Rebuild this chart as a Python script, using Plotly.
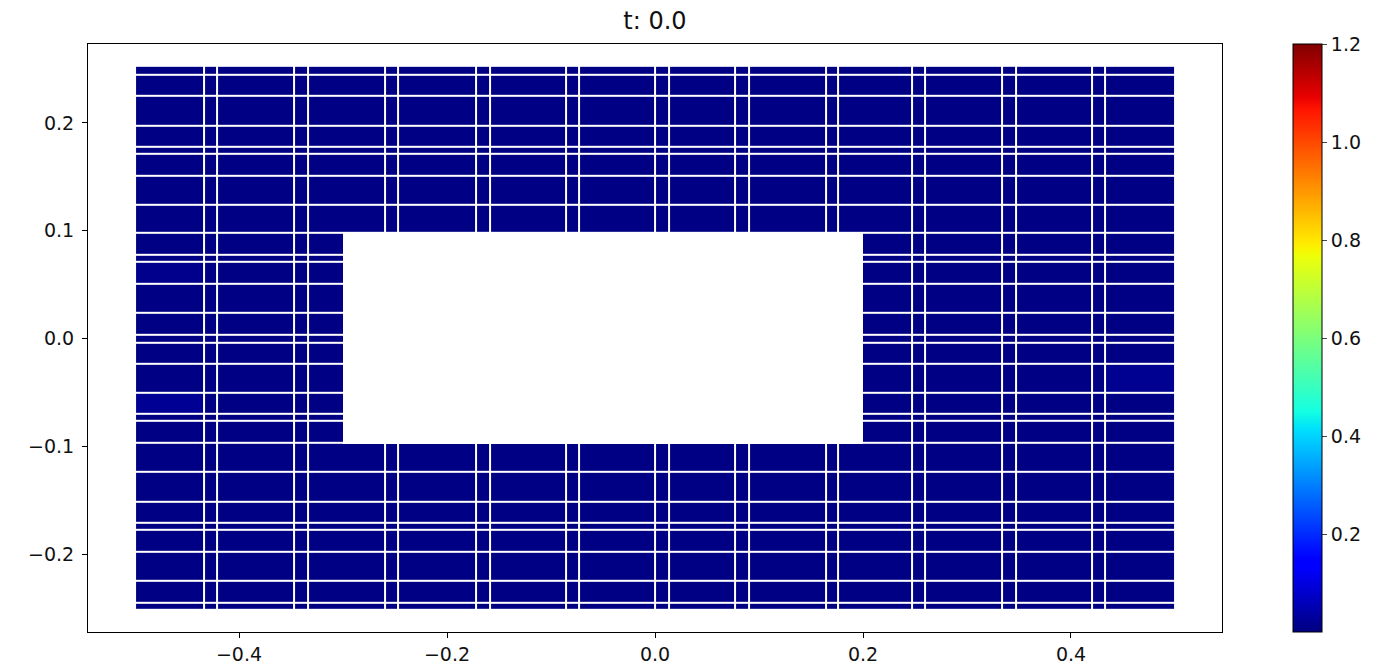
import bisect
import plotly.graph_objects as go

# element seams of the mesh (data units)
x_edges = [-0.5, -0.434, -0.421, -0.347, -0.334, -0.260, -0.247, -0.172, -0.159,
           -0.086, -0.073, 0.0, 0.013, 0.077, 0.090, 0.164, 0.176, 0.247, 0.260,
           0.334, 0.347, 0.420, 0.433, 0.5]
y_edges = [-0.252, -0.2454, -0.225, -0.1981, -0.1777, -0.1712, -0.1517, -0.1239,
           -0.097, -0.0766, -0.0701, -0.0506, -0.0237, -0.0042, 0.0032, 0.0237,
           0.0506, 0.0710, 0.0775, 0.0978, 0.1238, 0.1508, 0.1711, 0.1776,
           0.1972, 0.2250, 0.2444, 0.253]

# field at t = 0 is almost zero everywhere, a few faint bumps near the ends
base_level = 0.004
bumps = [(-0.466, -0.058, 0.022),
         (-0.468, 0.058, 0.014),
         (0.483, -0.045, 0.018)]

# obstacle (no cells inside)
hole_x = [-0.3, 0.2, 0.2, -0.3, -0.3]
hole_y = [-0.098, -0.098, 0.098, 0.098, -0.098]

cbar_ticks = [0.2, 0.4, 0.6, 0.8, 1.0, 1.2]
t_value = 0.0

z = [[base_level] * (len(x_edges) - 1) for _ in range(len(y_edges) - 1)]
for bx, by, val in bumps:
    i = bisect.bisect(y_edges, by) - 1
    j = bisect.bisect(x_edges, bx) - 1
    z[i][j] = val

# matplotlib "jet"
jet = [[0.0, 'rgb(0,0,128)'], [0.11, 'rgb(0,0,255)'], [0.125, 'rgb(0,0,255)'],
       [0.34, 'rgb(0,219,255)'], [0.35, 'rgb(0,230,247)'], [0.375, 'rgb(21,255,226)'],
       [0.64, 'rgb(238,255,8)'], [0.65, 'rgb(247,246,0)'], [0.66, 'rgb(255,236,0)'],
       [0.89, 'rgb(255,19,0)'], [0.91, 'rgb(232,0,0)'], [1.0, 'rgb(128,0,0)']]

font = dict(family='DejaVu Sans', size=19, color='#111')

fig = go.Figure()
fig.add_trace(go.Heatmap(x=x_edges, y=y_edges, z=z, colorscale=jet, zmin=0, zmax=1.2,
                         zsmooth=False, xgap=2, ygap=2, hoverinfo='skip',
                         colorbar=dict(x=1.0626, xanchor='left', xpad=0, ypad=0,
                                       y=0.5, len=1.0, thickness=29,
                                       outlinewidth=1, outlinecolor='black',
                                       ticks='outside', ticklen=5, tickwidth=1,
                                       tickvals=cbar_ticks, tickformat='.1f',
                                       tickfont=font)))
fig.add_trace(go.Scatter(x=hole_x, y=hole_y, mode='lines', fill='toself',
                         fillcolor='white', line=dict(width=0, color='white'),
                         hoverinfo='skip', showlegend=False))

fig.update_layout(width=1376, height=668,
                  margin=dict(l=88, r=154, t=44, b=36, autoexpand=False),
                  plot_bgcolor='white', paper_bgcolor='white', font=font,
                  showlegend=False,
                  title=dict(text=f't: {t_value:.1f}', font=dict(family='DejaVu Sans', size=24, color='#111'),
                             x=0.5, xref='paper', xanchor='center',
                             y=1 - 21 / 668, yref='container', yanchor='middle'))
fig.update_xaxes(range=[-0.5452, 0.5452], dtick=0.2, tick0=0, tickformat='.1f',
                 showgrid=False, zeroline=False, showline=True, linecolor='black',
                 linewidth=1, mirror=True, ticks='outside', ticklen=5, tickcolor='black',
                 automargin=False)
fig.update_yaxes(range=[-0.2723, 0.2732], dtick=0.1, tick0=0, tickformat='.1f',
                 showgrid=False, zeroline=False, showline=True, linecolor='black',
                 linewidth=1, mirror=True, ticks='outside', ticklen=5, tickcolor='black',
                 ticklabelstandoff=4, automargin=False)

# browser default body margin would shift the whole figure by 8px
fig.write_html("out.html", config={'displayModeBar': False},
               post_script="document.body.style.margin = '0px';")
